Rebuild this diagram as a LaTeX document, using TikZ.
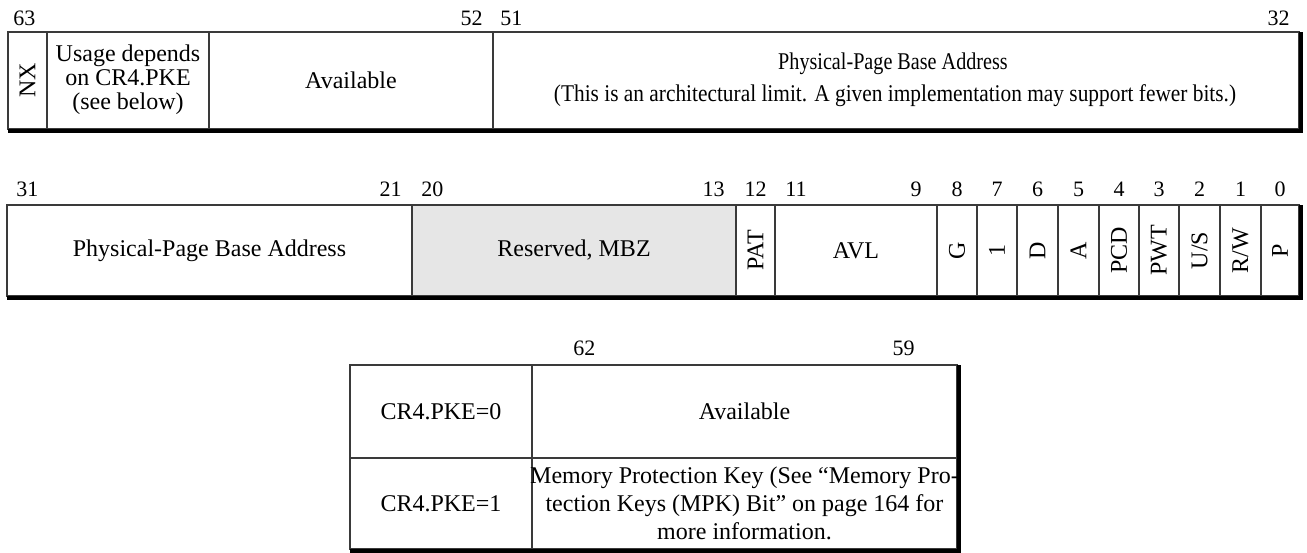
\documentclass[tikz,border=0pt]{standalone}
\usepackage{fontspec}
\setmainfont{Liberation Serif}
\usepackage{tikz}
\usetikzlibrary{positioning, calc}
\definecolor{rule}{HTML}{3A3A3A}
\definecolor{mbzgray}{HTML}{E6E6E6}

\begin{document}
\begin{tikzpicture}[x=0.5pt,y=-0.5pt,
  field/.style={draw=rule, line width=0.6pt},
  shade/.style={draw=black, line width=2pt, line cap=rect},
  bitno/.style={inner sep=0pt, font=\fontsize{11}{13}\selectfont},
  label/.style={inner sep=0pt, align=center, font=\fontsize{12}{14}\selectfont},
  vlabel/.style={label, rotate=90}]
\useasboundingbox (0,0) rectangle (1307,552);

% upper half: bits 63..32
\draw[field] (8,32) rectangle (1299,129);
\draw[field] (47,32) -- (47,129);
\draw[field] (209,32) -- (209,129);
\draw[field] (493,32) -- (493,129);
\draw[shade] (10,131) -- (1301,131) -- (1301,34);
\node[bitno, anchor=west] (n63) at (13,18)   {63};
\node[bitno, anchor=east] (n52) at (483,18)  {52};
\node[bitno, anchor=west] (n51) at (500,18)  {51};
\node[bitno, anchor=east] (n32) at (1290,18) {32};
\node[vlabel] (nx) at (27.5,80) {NX};
\node[label, font=\fontsize{12}{12}\selectfont] (usage) at (128,80) {Usage depends\\on CR4.PKE\\(see below)};
\node[label] (avail) at (351,80) {Available};
\node[label] (ppbahi) at (893,64) {\scalebox{0.84}[1]{Physical-Page Base Address}};
\node[label] (limit) at (895,96) {\scalebox{0.89}[1]{(This is an architectural limit. A given implementation may support fewer bits.)}};

% lower half: bits 31..0
\filldraw[field, fill=mbzgray] (412,205) rectangle (736,296);
\draw[field] (7,205) rectangle (1299,296);
\draw[field] (775,205) -- (775,296);
\draw[field] (937,205) -- (937,296);
\draw[field] (977,205) -- (977,296);
\draw[field] (1017,205) -- (1017,296);
\draw[field] (1058,205) -- (1058,296);
\draw[field] (1099,205) -- (1099,296);
\draw[field] (1139,205) -- (1139,296);
\draw[field] (1179,205) -- (1179,296);
\draw[field] (1220,205) -- (1220,296);
\draw[field] (1261,205) -- (1261,296);
\draw[shade] (9,298) -- (1301,298) -- (1301,207);
\node[bitno, anchor=west] (n31) at (16,189)  {31};
\node[bitno, anchor=east] (n21) at (402,189) {21};
\node[bitno, anchor=west] (n20) at (421,189) {20};
\node[bitno, anchor=east] (n13) at (725,189) {13};
\node[bitno] (n12) at (755.5,189) {12};
\node[bitno, anchor=west] (n11) at (785,189) {11};
\node[bitno, anchor=east] (n9) at (922,189)  {9};
\node[bitno] (n8) at (957,189)    {8};
\node[bitno] (n7) at (997,189)    {7};
\node[bitno] (n6) at (1037.5,189) {6};
\node[bitno] (n5) at (1078.5,189) {5};
\node[bitno] (n4) at (1119,189)   {4};
\node[bitno] (n3) at (1159,189)   {3};
\node[bitno] (n2) at (1199.5,189) {2};
\node[bitno] (n1) at (1240.5,189) {1};
\node[bitno] (n0) at (1280,189)   {0};
\node[label] (ppbalo) at (209.5,250.5) {Physical-Page Base Address};
\node[label] (mbz) at (574,250.5) {Reserved, MBZ};
\node[vlabel] (pat) at (755.5,250.5) {PAT};
\node[label] (avl) at (856,250.5) {AVL};
\node[vlabel] (g) at (957,250.5)    {G};
\node[vlabel] (one) at (997,250.5)  {1};
\node[vlabel] (d) at (1037.5,250.5) {D};
\node[vlabel] (a) at (1078.5,250.5) {A};
\node[vlabel] (pcd) at (1119,250.5) {PCD};
\node[vlabel] (pwt) at (1159,250.5) {PWT};
\node[vlabel] (us) at (1199.5,250.5) {U/S};
\node[vlabel] (rw) at (1240.5,250.5) {R/W};
\node[vlabel] (p) at (1280,250.5)   {P};

% bits 62..59 depending on CR4.PKE
\draw[field] (350,365) rectangle (957,549);
\draw[field] (350,458) -- (957,458);
\draw[field] (532,365) -- (532,549);
\draw[shade] (352,551) -- (959,551) -- (959,367);
\node[bitno, anchor=west] (n62) at (573,348) {62};
\node[bitno, anchor=east] (n59) at (915,348) {59};
\node[label] (pke0) at (441,411.5) {CR4.PKE=0};
\node[label] (avail2) at (744.5,411.5) {Available};
\node[label] (pke1) at (441,503.5) {CR4.PKE=1};
\node[label] (mpk) at (744.5,503.5) {Memory Protection Key (See ``Memory Pro-\\tection Keys (MPK) Bit'' on page 164 for\\more information.};
\end{tikzpicture}
\end{document}
